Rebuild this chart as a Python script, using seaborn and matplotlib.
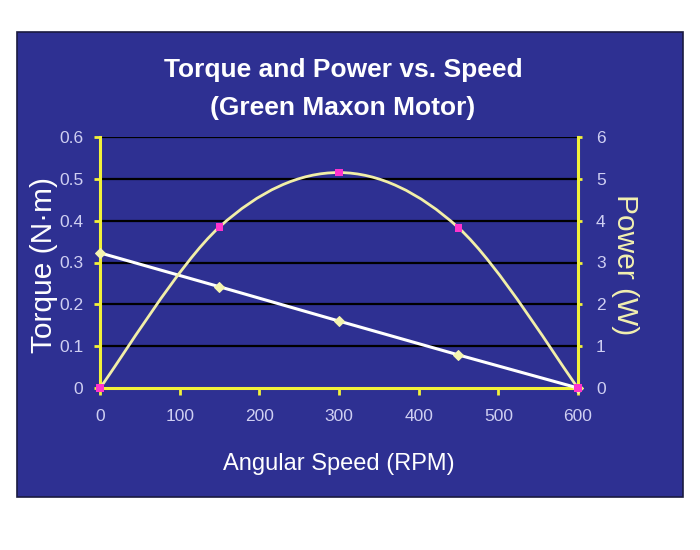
import matplotlib
matplotlib.use("Agg")
import matplotlib.pyplot as plt
import seaborn as sns
import numpy as np
import pandas as pd
from matplotlib.path import Path
from matplotlib.patches import PathPatch, Rectangle

speed = [0, 150, 300, 450, 600]
torque = [0.323, 0.242, 0.160, 0.079, 0.0]
power = [0.0, 3.85, 5.15, 3.83, 0.0]
x_ticks = [0, 100, 200, 300, 400, 500, 600]
torque_ticks = [0, 0.1, 0.2, 0.3, 0.4, 0.5, 0.6]
torque_labels = ["0", "0.1", "0.2", "0.3", "0.4", "0.5", "0.6"]
power_ticks = [0, 1, 2, 3, 4, 5, 6]

BG = "#2E3092"
YEL = "#F2F23A"
TICKC = "#CFCFF2"
sansb = ["Liberation Sans", "DejaVu Sans"]

sns.set_theme(style="white")
plt.rcParams["font.family"] = sansb

fig = plt.figure(figsize=(7, 5.5), dpi=100)
fig.patch.set_facecolor("white")
fig.patches.append(Rectangle((17/700, 1-497/550), 666/700, 465/550,
                             transform=fig.transFigure, facecolor=BG,
                             edgecolor="#1a1a40", linewidth=1.2, zorder=-10))

ax = fig.add_axes([100/700, 1-388/550, 478/700, 251/550])
ax.set_facecolor(BG)
ax2 = ax.twinx()
ax2.set_facecolor("none")

df = pd.DataFrame({"speed": speed, "torque": torque, "power": power})

# grid lines
for t in torque_ticks[1:]:
    ax.axhline(t, color="black", lw=1.6, zorder=1)

# torque line
sns.lineplot(data=df, x="speed", y="torque", ax=ax, color="white", lw=2.2,
             marker="D", markersize=5, markerfacecolor="#F4F4B0",
             markeredgecolor="#F4F4B0", zorder=4, clip_on=False)

# power smoothed line (Excel-style Bezier through data points)
pts = list(zip(speed, power))
verts = [pts[0]]
codes = [Path.MOVETO]
n = len(pts)
for i in range(n - 1):
    p0 = np.array(pts[i - 1] if i > 0 else pts[i])
    p1 = np.array(pts[i])
    p2 = np.array(pts[i + 1])
    p3 = np.array(pts[i + 2] if i + 2 < n else pts[i + 1])
    c1 = p1 + (p2 - p0) / 6
    c2 = p2 - (p3 - p1) / 6
    verts += [tuple(c1), tuple(c2), tuple(p2)]
    codes += [Path.CURVE4] * 3
ax2.add_patch(PathPatch(Path(verts, codes), facecolor="none",
                        edgecolor="#F2EFA8", lw=2.0, zorder=3))
sns.scatterplot(data=df, x="speed", y="power", ax=ax2, color="#FF33CC",
                marker="s", s=30, edgecolor="none", zorder=5, clip_on=False)

ax.set_xlim(0, 600)
ax.set_ylim(0, 0.6)
ax2.set_ylim(0, 6)
ax.set_xticks(x_ticks)
ax.set_xticklabels([str(v) for v in x_ticks], fontsize=12.5, color=TICKC)
ax.set_yticks(torque_ticks)
ax.set_yticklabels(torque_labels, fontsize=12.5, color=TICKC)
ax2.set_yticks(power_ticks)
ax2.set_yticklabels([str(v) for v in power_ticks], fontsize=12.5, color=TICKC)

for a in (ax, ax2):
    for s in a.spines.values():
        s.set_visible(False)
ax.spines["left"].set_visible(True)
ax.spines["left"].set_color(YEL)
ax.spines["left"].set_linewidth(2.2)
ax.spines["bottom"].set_visible(True)
ax.spines["bottom"].set_color(YEL)
ax.spines["bottom"].set_linewidth(2.2)
ax2.spines["right"].set_visible(True)
ax2.spines["right"].set_color(YEL)
ax2.spines["right"].set_linewidth(2.2)

ax.tick_params(axis="y", direction="out", length=4, width=2, color=YEL, pad=8, left=True)
ax.tick_params(axis="x", direction="out", length=5, width=2, color=YEL, pad=10, bottom=True)
ax2.tick_params(axis="y", direction="out", length=3, width=2, color=YEL, pad=10, right=True)

ax.set_xlabel("Angular Speed (RPM)", fontsize=17, color="white", va="center")
ax.xaxis.set_label_coords(0.5, (388 - 464) / 251)
ax.set_ylabel("Torque (N·m)", fontsize=21.5, color="white", va="center")
ax.yaxis.set_label_coords((44 - 100) / 478, 0.49)
ax2.set_ylabel("Power (W)", fontsize=21.5, color="#F2F0B0", rotation=270, va="center")
ax2.yaxis.set_label_coords((625 - 100) / 478, 0.49)

fig.text(343/700, 1-70/550, "Torque and Power vs. Speed", ha="center", va="center",
         fontsize=19, fontweight="bold", color="white")
fig.text(343/700, 1-108/550, "(Green Maxon Motor)", ha="center", va="center",
         fontsize=19, fontweight="bold", color="white")

fig.savefig("out.png", dpi=100, facecolor=fig.get_facecolor())
